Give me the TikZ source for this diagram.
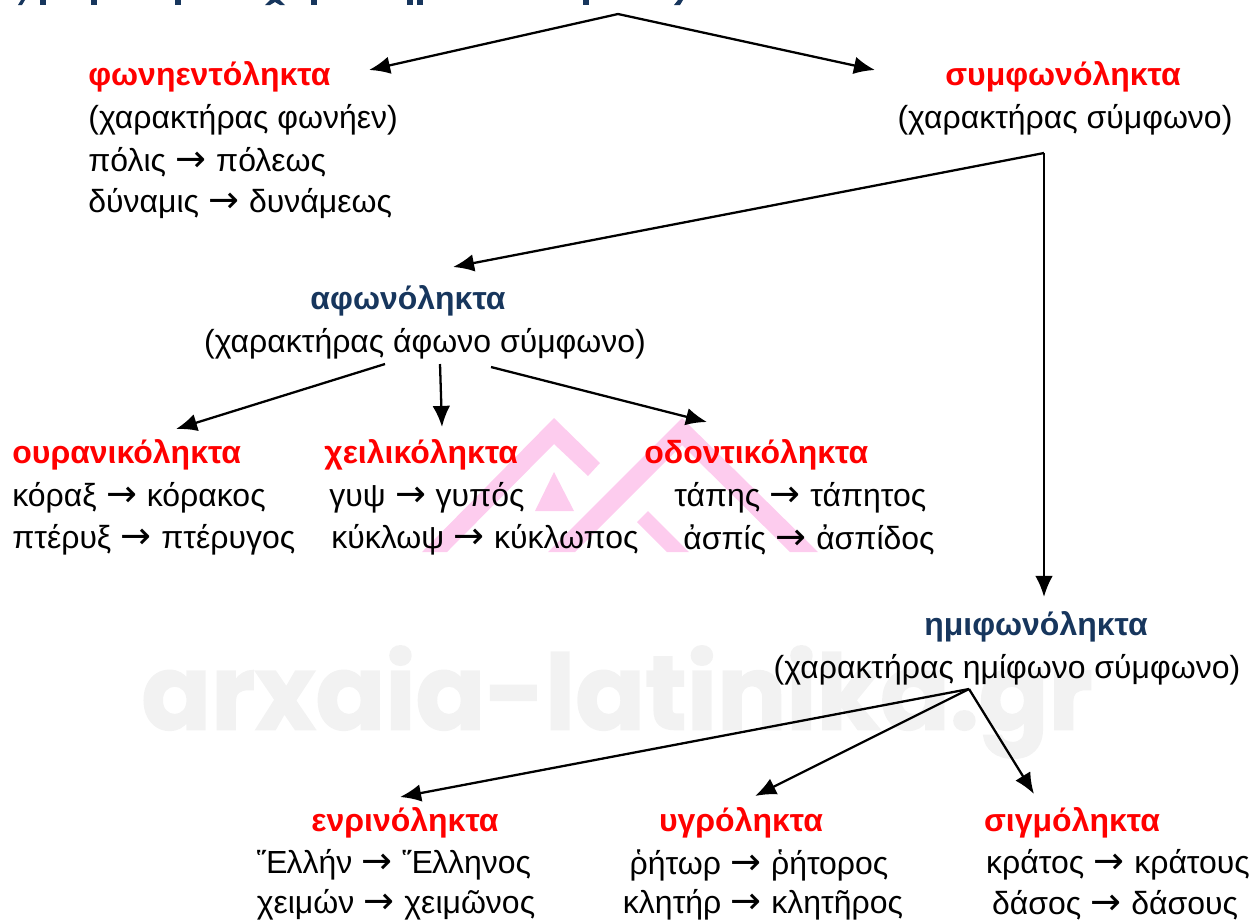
\documentclass[tikz,border=0pt]{standalone}
\usepackage{fontspec}
\setmainfont{Liberation Sans}
\newfontfamily\markfont[BoldFeatures={FakeBold=1.6}]{Poppins}
\newfontfamily\arrowfont{DejaVu Sans}
\usetikzlibrary{arrows.meta}
\definecolor{headblue}{RGB}{23,54,93}
\definecolor{logopink}{RGB}{253,204,238}
\definecolor{markgray}{RGB}{242,242,242}
\tikzset{
  redhead/.style={text=red,font=\fontsize{18.2}{18.2}\selectfont\bfseries,inner sep=0pt,yshift=-1.1pt},
  bluehead/.style={text=headblue,font=\fontsize{18.2}{18.2}\selectfont\bfseries,inner sep=0pt,yshift=-1.1pt},
  wordline/.style={font=\fontsize{18.2}{18.2}\selectfont,inner sep=0pt,yshift=-1.1pt},
  linkarrow/.style={-{Latex[length=12pt,width=10pt]},line width=1.3pt}
}
\newcommand{\ra}{\hspace{0.3em}{\fontsize{21}{21}\arrowfont\symbol{"2192}}\hspace{0.3em}}
\begin{document}
\begin{tikzpicture}[x=0.02cm,y=-0.02cm]
  \useasboundingbox (0,0) rectangle (1253,921);
  % logo
  \fill[logopink] (422,552)--(554,418)--(600,463)--(588,476)--(554,444)--(447,552)--cycle;
  \fill[logopink] (535,511)--(554,472)--(574,511)--cycle;
  \fill[logopink] (548,552)--(682,418)--(818,552)--(790,552)--(682,445)--(575,552)--cycle;
  \fill[logopink] (637,522)--(648,511)--(689,552)--(667,552)--cycle;
  \node[text=markgray,inner sep=0pt] (mark) at (617,702) {\scalebox{0.886}[0.9]{\fontsize{66}{66}\markfont\bfseries arxaia-latinika.gr}};
  % what is left of the cut heading
  \foreach \x in {40,91,175,311,407,417,583}
    \fill[headblue] (\x,0) rectangle (\x+6,5);
  \fill[headblue] (18,5)--(21,0)--(25,0)--(22,5)--cycle;
  \fill[headblue] (265,5)--(270,0)--(280,0)--(285,5)--(280,5)--(275,2)--(270,5)--cycle;
  \fill[headblue] (674,5)--(680,5)--(683,0)--(678,0)--cycle;
  % top
  \coordinate (top) at (618,14);
  \node[redhead,anchor=west] (fon) at (88,75) {φωνηεντόληκτα};
  \node[wordline,anchor=west] (fon1) at (88,118) {(χαρακτήρας φωνήεν)};
  \node[wordline,anchor=west] (fon2) at (88,160) {πόλις\ra πόλεως};
  \node[wordline,anchor=west] (fon3) at (88,202) {δύναμις\ra δυνάμεως};
  \node[redhead] (sym) at (1063,75) {συμφωνόληκτα};
  \node[wordline] (sym1) at (1065,118) {(χαρακτήρας σύμφωνο)};
  \coordinate (symdown) at (1044,153);
  \node[bluehead] (afo) at (408,299) {αφωνόληκτα};
  \node[wordline] (afo1) at (425,342) {(χαρακτήρας άφωνο σύμφωνο)};
  \node[redhead,anchor=west] (our) at (12,453) {ουρανικόληκτα};
  \node[wordline,anchor=west] (our1) at (12,496) {κόραξ\ra κόρακος};
  \node[wordline,anchor=west] (our2) at (12,538) {πτέρυξ\ra πτέρυγος};
  \node[redhead,anchor=west] (xei) at (324,453) {χειλικόληκτα};
  \node[wordline,anchor=west] (xei1) at (329,496) {γυψ\ra γυπός};
  \node[wordline,anchor=west] (xei2) at (331,538) {κύκλωψ\ra κύκλωπος};
  \node[redhead,anchor=west] (odo) at (644,453) {οδοντικόληκτα};
  \node[wordline,anchor=west] (odo1) at (674,496) {τάπης\ra τάπητος};
  \node[wordline,anchor=west] (odo2) at (683,538) {ἀσπίς\ra ἀσπίδος};
  \node[bluehead] (imi) at (1036,625) {ημιφωνόληκτα};
  \node[wordline] (imi1) at (1007,668) {(χαρακτήρας ημίφωνο σύμφωνο)};
  \coordinate (imidown) at (969,689);
  \node[redhead] (enr) at (405,821) {ενρινόληκτα};
  \node[wordline] (enr1) at (394,863) {Ἕλλήν\ra Ἕλληνος};
  \node[wordline] (enr2) at (396,903) {χειμών\ra χειμῶνος};
  \node[redhead] (ygr) at (741,821) {υγρόληκτα};
  \node[wordline] (ygr1) at (759,863) {ῥήτωρ\ra ῥήτορος};
  \node[wordline] (ygr2) at (763,903) {κλητήρ\ra κλητῆρος};
  \node[redhead] (sig) at (1072,821) {σιγμόληκτα};
  \node[wordline] (sig1) at (1118,863) {κράτος\ra κράτους};
  \node[wordline] (sig2) at (1115,903) {δάσος\ra δάσους};
  % arrows
  \coordinate (a1) at (369,70);
  \coordinate (a2) at (875,70);
  \coordinate (a3) at (453,267);
  \coordinate (a4) at (1044,597);
  \draw[linkarrow] (top) -- (a1);
  \draw[linkarrow] (top) -- (a2);
  \draw[linkarrow] (symdown) -- (a3);
  \draw[linkarrow] (symdown) -- (a4);
  \coordinate (b0) at (385,364);
  \coordinate (b1) at (176,429);
  \coordinate (c0) at (440,364);
  \coordinate (c1) at (442,427);
  \coordinate (d0) at (491,367);
  \coordinate (d1) at (707,422);
  \draw[linkarrow] (b0) -- (b1);
  \draw[linkarrow] (c0) -- (c1);
  \draw[linkarrow] (d0) -- (d1);
  \coordinate (e1) at (400,797);
  \coordinate (e2) at (755,796);
  \coordinate (e3) at (1034,794);
  \draw[linkarrow] (imidown) -- (e1);
  \draw[linkarrow] (imidown) -- (e2);
  \draw[linkarrow] (imidown) -- (e3);
\end{tikzpicture}
\end{document}
